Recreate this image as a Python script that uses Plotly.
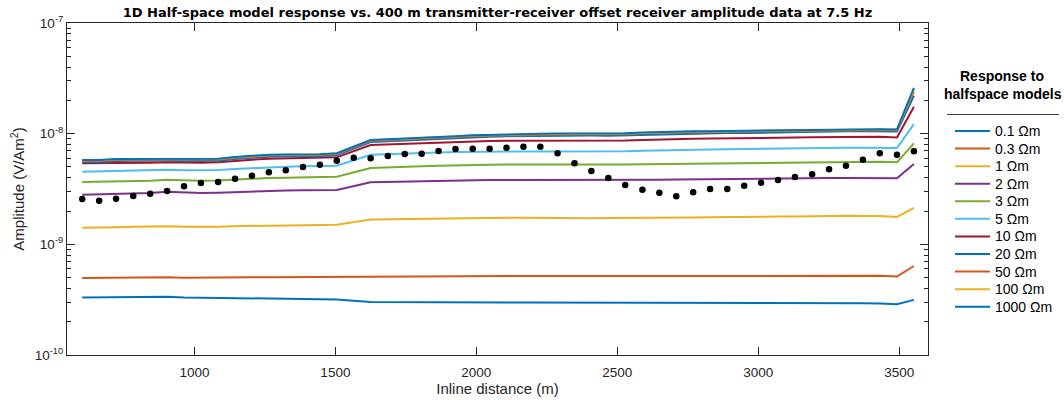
import plotly.graph_objects as go

# ---------------- data ----------------
# inline positions of the measured data (m)
x_data = [602, 662, 722, 783, 843, 903, 963, 1023, 1084, 1144, 1204, 1264, 1324, 1385,
          1445, 1505, 1565, 1625, 1686, 1746, 1806, 1866, 1926, 1987, 2047, 2107, 2167,
          2227, 2288, 2348, 2408, 2468, 2528, 2589, 2649, 2709, 2769, 2829, 2890, 2950,
          3010, 3070, 3130, 3191, 3251, 3311, 3371, 3431, 3492, 3552]
# measured receiver amplitude (x1e-9 V/Am^2)
amp_data = [2.57, 2.48, 2.58, 2.73, 2.87, 3.03, 3.34, 3.58, 3.66, 3.92,
            4.17, 4.48, 4.67, 5.00, 5.24, 5.70, 6.07, 5.99, 6.28, 6.55,
            6.59, 6.97, 7.27, 7.31, 7.31, 7.47, 7.62, 7.62, 6.65, 5.40,
            4.60, 3.98, 3.44, 3.12, 2.93, 2.72, 2.95, 3.16, 3.16, 3.39,
            3.61, 3.81, 4.06, 4.29, 4.76, 5.13, 5.82, 6.65, 6.45, 6.93]

# inline positions of the model responses (m)
x_model = [602, 662, 722, 783, 843, 903, 963, 1023, 1084, 1144, 1204, 1264, 1324, 1385,
           1445, 1505, 1625, 1686, 1746, 1806, 1866, 1926, 1987, 2047, 2107, 2167,
           2227, 2288, 2348, 2408, 2468, 2528, 2589, 2649, 2709, 2769, 2829, 2890, 2950,
           3010, 3070, 3130, 3191, 3251, 3311, 3371, 3431, 3492, 3552]

model_names = ["0.1 Ωm", "0.3 Ωm", "1 Ωm", "2 Ωm", "3 Ωm", "5 Ωm",
               "10 Ωm", "20 Ωm", "50 Ωm", "100 Ωm", "1000 Ωm"]
model_colors = ["#0072BD", "#D95319", "#EDB120", "#7E2F8E", "#77AC30", "#4DBEEE",
                "#A2142F", "#0072BD", "#D95319", "#EDB120", "#0072BD"]

# halfspace responses (x1e-9 V/Am^2)
resp_0p1 = [0.330, 0.331, 0.332, 0.332, 0.331, 0.336, 0.331, 0.330, 0.328, 0.325, 0.323, 0.322,
            0.322, 0.322, 0.321, 0.318, 0.302, 0.301, 0.300, 0.300, 0.299, 0.299, 0.299, 0.299,
            0.298, 0.298, 0.298, 0.297, 0.297, 0.297, 0.297, 0.296, 0.296, 0.296, 0.295, 0.295,
            0.296, 0.296, 0.296, 0.295, 0.295, 0.294, 0.294, 0.295, 0.295, 0.294, 0.292, 0.288, 0.315]
resp_0p3 = [0.496, 0.498, 0.500, 0.501, 0.501, 0.503, 0.500, 0.499, 0.500, 0.502, 0.503, 0.505,
            0.506, 0.506, 0.505, 0.505, 0.515, 0.516, 0.517, 0.518, 0.518, 0.519, 0.519, 0.519,
            0.519, 0.518, 0.518, 0.517, 0.516, 0.516, 0.516, 0.517, 0.517, 0.518, 0.518, 0.518,
            0.518, 0.519, 0.519, 0.519, 0.520, 0.520, 0.520, 0.521, 0.521, 0.520, 0.519, 0.512, 0.637]
resp_1 = [1.41, 1.43, 1.43, 1.44, 1.45, 1.46, 1.44, 1.43, 1.44, 1.46, 1.47, 1.48, 1.49, 1.50,
          1.50, 1.50, 1.68, 1.69, 1.70, 1.71, 1.72, 1.72, 1.73, 1.73, 1.74, 1.74, 1.73, 1.73,
          1.72, 1.72, 1.73, 1.73, 1.74, 1.74, 1.75, 1.75, 1.76, 1.77, 1.77, 1.77, 1.78, 1.78,
          1.80, 1.80, 1.81, 1.81, 1.80, 1.77, 2.14]
resp_2 = [2.81, 2.83, 2.85, 2.88, 2.91, 2.99, 2.94, 2.91, 2.93, 2.97, 3.01, 3.05, 3.06, 3.08,
          3.08, 3.10, 3.64, 3.67, 3.70, 3.73, 3.76, 3.78, 3.80, 3.81, 3.81, 3.81, 3.80, 3.80,
          3.79, 3.79, 3.80, 3.81, 3.82, 3.84, 3.85, 3.87, 3.88, 3.89, 3.90, 3.92, 3.93, 3.95,
          3.96, 3.98, 3.98, 3.99, 3.98, 3.95, 5.32]
resp_3 = [3.66, 3.68, 3.71, 3.73, 3.76, 3.84, 3.77, 3.76, 3.77, 3.84, 3.92, 3.98, 4.00, 4.03,
          4.04, 4.08, 4.89, 4.97, 5.02, 5.07, 5.12, 5.18, 5.21, 5.24, 5.26, 5.26, 5.25, 5.23,
          5.21, 5.21, 5.23, 5.26, 5.30, 5.32, 5.35, 5.38, 5.40, 5.43, 5.46, 5.48, 5.50, 5.53,
          5.54, 5.54, 5.56, 5.57, 5.57, 5.51, 8.18]
resp_5 = [4.53, 4.57, 4.60, 4.63, 4.67, 4.72, 4.67, 4.67, 4.70, 4.79, 4.89, 5.00, 5.03, 5.07,
          5.07, 5.13, 6.45, 6.55, 6.62, 6.69, 6.76, 6.83, 6.87, 6.87, 6.90, 6.90, 6.90, 6.89,
          6.86, 6.86, 6.87, 6.93, 7.00, 7.07, 7.12, 7.16, 7.19, 7.22, 7.27, 7.30, 7.34, 7.39,
          7.42, 7.45, 7.47, 7.47, 7.47, 7.42, 12.2]
resp_10 = [5.40, 5.40, 5.43, 5.47, 5.47, 5.51, 5.47, 5.47, 5.51, 5.70, 5.82, 5.94, 5.99, 6.03,
           6.03, 6.11, 7.90, 8.01, 8.12, 8.20, 8.32, 8.41, 8.53, 8.58, 8.64, 8.64, 8.62, 8.60,
           8.58, 8.58, 8.62, 8.68, 8.76, 8.86, 8.92, 8.99, 9.02, 9.04, 9.08, 9.14, 9.18, 9.23,
           9.28, 9.33, 9.36, 9.39, 9.39, 9.23, 17.5]
resp_20 = [5.54, 5.54, 5.66, 5.66, 5.66, 5.72, 5.63, 5.63, 5.70, 5.90, 6.06, 6.19, 6.21, 6.24,
           6.24, 6.38, 8.40, 8.53, 8.63, 8.77, 8.95, 9.08, 9.27, 9.37, 9.47, 9.52, 9.56, 9.60,
           9.62, 9.62, 9.60, 9.68, 9.80, 9.93, 10.01, 10.07, 10.10, 10.14, 10.14, 10.22, 10.31,
           10.40, 10.43, 10.48, 10.50, 10.53, 10.53, 10.46, 22.0]
resp_50 = [5.66, 5.66, 5.78, 5.78, 5.78, 5.83, 5.75, 5.75, 5.82, 6.02, 6.19, 6.31, 6.34, 6.37,
           6.37, 6.51, 8.58, 8.70, 8.81, 8.95, 9.13, 9.27, 9.47, 9.56, 9.66, 9.72, 9.76, 9.80,
           9.82, 9.82, 9.80, 9.88, 10.01, 10.13, 10.22, 10.28, 10.31, 10.35, 10.35, 10.44, 10.52,
           10.61, 10.65, 10.70, 10.72, 10.75, 10.75, 10.68, 24.0]
resp_100 = [5.75, 5.75, 5.86, 5.86, 5.86, 5.92, 5.83, 5.83, 5.90, 6.11, 6.28, 6.41, 6.44, 6.47,
            6.47, 6.61, 8.71, 8.84, 8.95, 9.09, 9.27, 9.41, 9.61, 9.71, 9.81, 9.87, 9.91, 9.95,
            9.97, 9.97, 9.95, 10.03, 10.16, 10.29, 10.38, 10.44, 10.47, 10.51, 10.51, 10.60, 10.69,
            10.78, 10.81, 10.86, 10.88, 10.91, 10.91, 10.84, 25.2]
resp_1000 = [5.78, 5.78, 5.90, 5.90, 5.90, 5.96, 5.87, 5.87, 5.94, 6.15, 6.32, 6.45, 6.48, 6.51,
             6.51, 6.65, 8.76, 8.89, 9.00, 9.14, 9.33, 9.47, 9.67, 9.77, 9.87, 9.93, 9.97, 10.01,
             10.03, 10.03, 10.01, 10.09, 10.22, 10.35, 10.44, 10.50, 10.53, 10.57, 10.57, 10.66, 10.75,
             10.84, 10.88, 10.93, 10.95, 10.98, 10.98, 10.91, 25.9]

responses = [resp_0p1, resp_0p3, resp_1, resp_2, resp_3, resp_5,
             resp_10, resp_20, resp_50, resp_100, resp_1000]

x_ticks = [1000, 1500, 2000, 2500, 3000, 3500]
y_ticks = [1e-10, 1e-9, 1e-8, 1e-7]
y_tick_text = ["10<sup>-10</sup>", "10<sup>-9</sup>", "10<sup>-8</sup>", "10<sup>-7</sup>"]
y_minor = [m * d for d in (1e-10, 1e-9, 1e-8) for m in range(2, 10)]

SCALE = 1e-9
AX = "#262626"
FONT = "Liberation Sans, Arial, Helvetica, sans-serif"

# plot-area geometry in pixels (figure is 1064 x 400)
L, R, T, B = 67, 928, 23, 355
W, H = R - L, B - T


def px(xp):
    return (xp - L) / W


def py(yp):
    return (B - yp) / H


fig = go.Figure()
for name, col, vals in zip(model_names, model_colors, responses):
    fig.add_trace(go.Scatter(
        x=x_model, y=[v * SCALE for v in vals], mode="lines", name=name,
        line=dict(color=col, width=2), showlegend=False))

fig.add_trace(go.Scatter(
    x=x_data, y=[v * SCALE for v in amp_data], mode="markers", name="data",
    marker=dict(color="black", size=6.5), showlegend=False))

# ---- legend (drawn in paper space) ----
shapes = [dict(type="line", xref="paper", yref="paper",
               x0=px(947), x1=px(1059), y0=py(114.5), y1=py(114.5),
               line=dict(color="#404040", width=1))]
annotations = [dict(text="<b>Response to</b>", xref="paper", yref="paper",
                    x=px(1002), y=py(76), xanchor="center", yanchor="middle",
                    showarrow=False, font=dict(size=14, color="black", family=FONT)),
               dict(text="<b>halfspace models</b>", xref="paper", yref="paper",
                    x=px(1003), y=py(94), xanchor="center", yanchor="middle",
                    showarrow=False, font=dict(size=14, color="black", family=FONT))]
for i, (name, col) in enumerate(zip(model_names, model_colors)):
    yy = 131 + 17.57 * i
    shapes.append(dict(type="line", xref="paper", yref="paper",
                       x0=px(955), x1=px(990), y0=py(yy), y1=py(yy),
                       line=dict(color=col, width=2)))
    annotations.append(dict(text=name, xref="paper", yref="paper",
                            x=px(993), y=py(yy), xanchor="left", yanchor="middle",
                            showarrow=False, font=dict(size=14, color="black", family=FONT)))

fig.update_layout(
    width=1064, height=400,
    margin=dict(l=L, r=1064 - R, t=T, b=400 - B),
    paper_bgcolor="white", plot_bgcolor="white",
    font=dict(family=FONT, color=AX, size=13),
    showlegend=False,
    title=dict(
        text="<b>1D Half-space model response vs. 400 m transmitter-receiver offset receiver amplitude data at 7.5 Hz</b>",
        x=(L + R) / 2 / 1064, xanchor="center", y=1 - 12 / 400, yanchor="middle",
        font=dict(size=13, color="black", family="DejaVu Sans, sans-serif")),
    shapes=shapes,
    annotations=annotations,
)

fig.update_xaxes(
    range=[548, 3602], tickvals=x_ticks, ticktext=[str(t) for t in x_ticks],
    ticks="inside", ticklen=8, tickcolor=AX, tickwidth=1, ticklabelstandoff=5,
    showline=True, linecolor=AX, linewidth=1, mirror="ticks",
    showgrid=False, zeroline=False, automargin=False,
    tickfont=dict(size=13.5, color=AX),
    title=dict(text="Inline distance (m)", font=dict(size=15, color=AX), standoff=1),
)
fig.update_yaxes(
    type="log", range=[-10, -7], tickvals=y_ticks, ticktext=y_tick_text,
    ticks="inside", ticklen=8, tickcolor=AX, tickwidth=1,
    minor=dict(ticks="inside", ticklen=4, tickcolor=AX, tickmode="array",
               tickvals=y_minor, showgrid=False),
    showline=True, linecolor=AX, linewidth=1, mirror="ticks",
    showgrid=False, zeroline=False, automargin=False,
    tickfont=dict(size=13.5, color=AX),
    title=dict(text="Amplitude (V/Am<sup>2</sup>)", font=dict(size=15, color=AX), standoff=6),
)

fig.write_html("out.html")
